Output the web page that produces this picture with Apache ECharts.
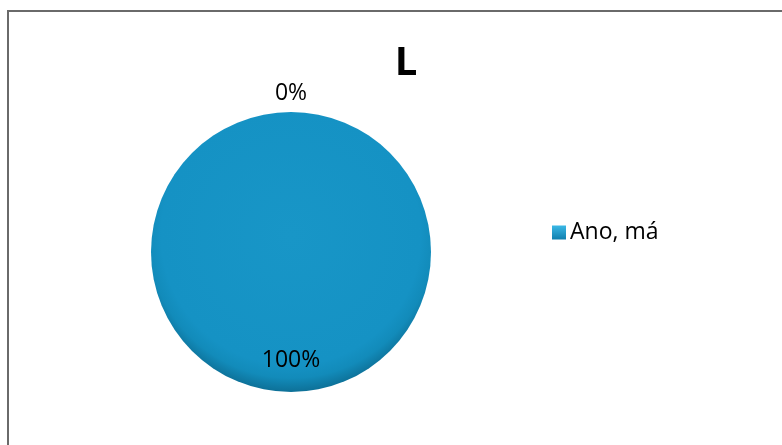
<!DOCTYPE html>
<html>
<head>
<meta charset="utf-8">
<script src="https://cdn.jsdelivr.net/npm/echarts@6/dist/echarts.min.js"></script>
<style>
html,body{margin:0;padding:0;background:#fff;}
#chart{width:782px;height:445px;}
</style>
</head>
<body>
<div id="chart"></div>
<script>
const titleText = 'L';
const categories = ['Ano, má', ''];
const values = [1, 0];
const legendItems = ['Ano, má'];

const FONT = '"Open Sans", "Noto Sans", sans-serif';
const pieColor = {
  type: 'radial', x: 0.5, y: 0.44, r: 0.58,
  colorStops: [
    {offset: 0, color: '#1896c7'},
    {offset: 0.8, color: '#1592c4'},
    {offset: 0.88, color: '#128bba'},
    {offset: 1, color: '#0b6589'}
  ]
};
const legendColor = {
  type: 'linear', x: 0, y: 0, x2: 0, y2: 1,
  colorStops: [{offset: 0, color: '#3bb8e6'}, {offset: 1, color: '#0f7fae'}]
};

const data = categories.map((c, i) => ({name: c, value: values[i]}));
const center = [291, 252];

const chart = echarts.init(document.getElementById('chart'), null, {renderer: 'canvas'});
chart.setOption({
  backgroundColor: '#fff',
  animation: false,
  title: {
    text: titleText, left: 401, top: 39, textAlign: 'center',
    textStyle: {fontFamily: FONT, fontWeight: 'bold', fontSize: 40, color: '#000'}
  },
  legend: {
    data: legendItems.map(n => ({name: n, itemStyle: {color: legendColor}})),
    left: 547, top: 216, orient: 'vertical',
    icon: 'rect', itemWidth: 14, itemHeight: 14, itemGap: 4,
    textStyle: {fontFamily: FONT, fontSize: 23, color: '#000', padding: [0, 0, 0, -1]},
    selectedMode: false
  },
  graphic: [{
    type: 'rect', z: -10,
    shape: {x: 8, y: 11, width: 820, height: 500},
    style: {fill: 'none', stroke: '#6a6a6a', lineWidth: 2}
  }],
  series: [
    {
      type: 'pie', center: center, radius: 140, startAngle: 90,
      data: data, label: {show: false}, labelLine: {show: false},
      itemStyle: {color: pieColor, borderWidth: 0},
      emphasis: {disabled: true}, silent: true
    },
    {
      type: 'pie', center: center, radius: [70, 140], startAngle: 90,
      data: data.map((d, i) => ({
        name: d.name, value: d.value,
        label: {show: i === 0}
      })),
      itemStyle: {color: 'rgba(0,0,0,0)', borderWidth: 0},
      label: {position: 'inside', formatter: '{d}%', fontFamily: FONT, fontSize: 23, color: '#000'},
      labelLine: {show: false},
      legendHoverLink: false, emphasis: {disabled: true}, silent: true
    },
    {
      type: 'pie', center: center, radius: [140, 171], startAngle: 90,
      data: data.map((d, i) => ({
        name: d.name, value: d.value,
        label: {show: i === 1}
      })),
      itemStyle: {color: 'rgba(0,0,0,0)', borderWidth: 0},
      label: {position: 'inside', formatter: '{d}%', fontFamily: FONT, fontSize: 23, color: '#000'},
      labelLine: {show: false},
      legendHoverLink: false, emphasis: {disabled: true}, silent: true
    }
  ]
});
</script>
</body>
</html>
